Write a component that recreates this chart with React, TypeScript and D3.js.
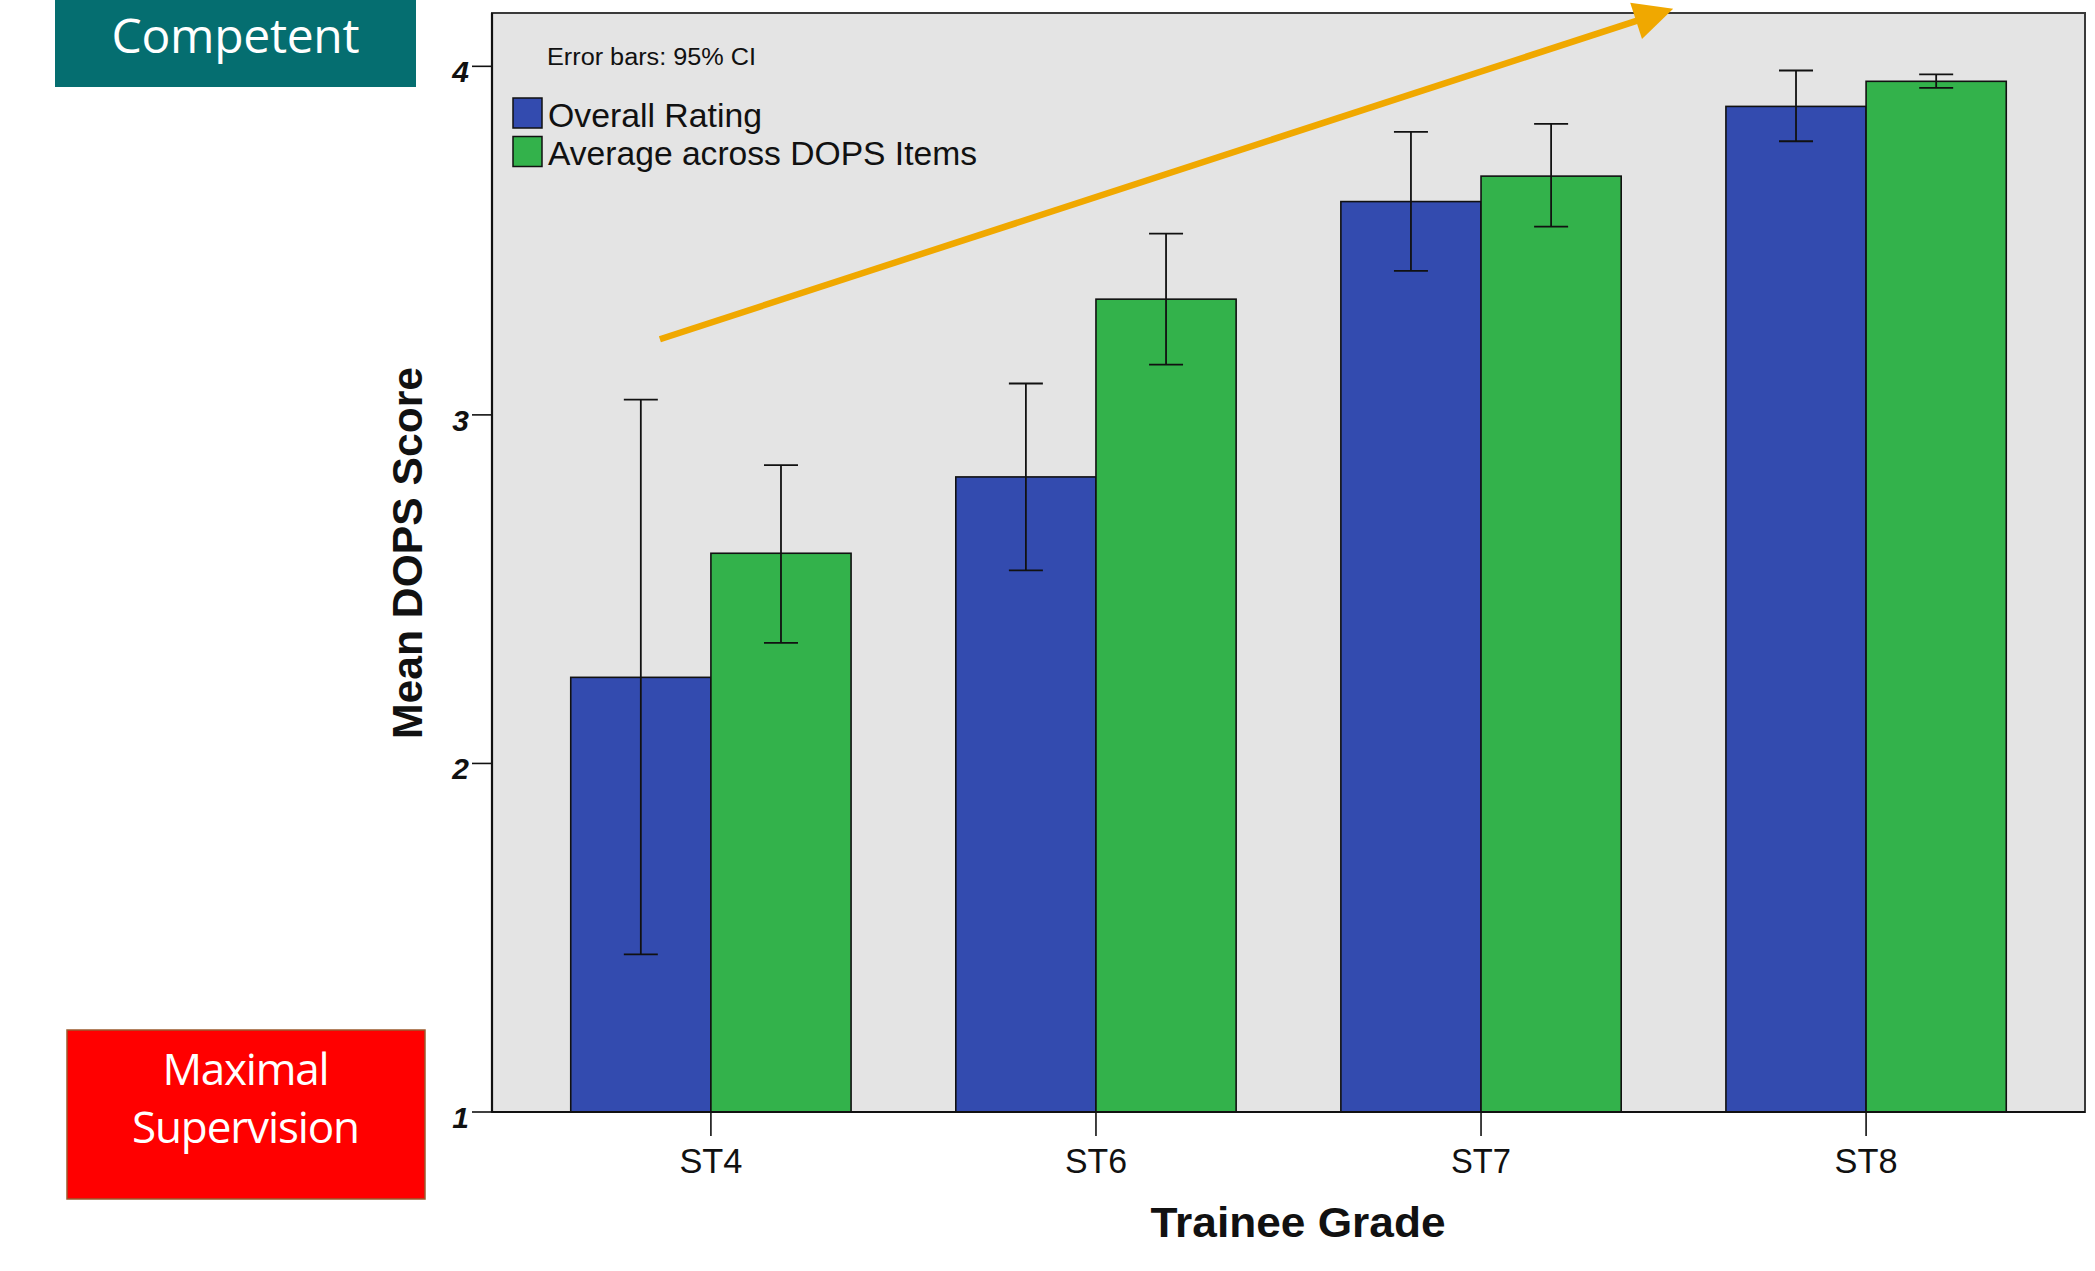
import React from "react";
import * as d3 from "d3";

const categories = ["ST4", "ST6", "ST7", "ST8"];
const seriesNames = ["Overall Rating", "Average across DOPS Items"];
const seriesColors = ["#334BAF", "#33B24B"];
const overallMean = [2.247, 2.822, 3.612, 3.885];
const overallLow = [1.452, 2.554, 3.413, 3.785];
const overallHigh = [3.044, 3.09, 3.812, 3.988];
const averageMean = [2.603, 3.332, 3.685, 3.957];
const averageLow = [2.346, 3.144, 3.54, 3.938];
const averageHigh = [2.856, 3.52, 3.835, 3.977];
const yTicks = [1, 2, 3, 4];
const xTickLabelWidths = [63, 62, 60, 63];
const legendTextWidths = [214, 429];
// arrow annotation in data units: x = category index, y = score
const arrowStart = { i: -0.1325, v: 3.217 };
const arrowEnd = { i: 2.499, v: 4.165 };

const W = 2095;
const H = 1271;
const plot = { left: 492, right: 2085, top: 13, bottom: 1112 };

const chartFont = "'Liberation Sans', Arial, sans-serif";
const boxFont = "'Open Sans', 'Noto Sans', sans-serif";

export default function App() {
  const y = d3.scaleLinear().domain([1, 4.153]).range([plot.bottom, plot.top]);
  const x = d3
    .scaleBand<string>()
    .domain(categories)
    .range([plot.left, plot.right])
    .paddingInner(0.272)
    .paddingOuter(0.2045);
  const xs = d3.scaleBand<number>().domain([0, 1]).range([0, x.bandwidth()]).padding(0);
  const center = (c: string) => (x(c) as number) + x.bandwidth() / 2;
  const idx = d3
    .scaleLinear()
    .domain([0, categories.length - 1])
    .range([center(categories[0]), center(categories[categories.length - 1])]);

  const series = [
    { mean: overallMean, low: overallLow, high: overallHigh },
    { mean: averageMean, low: averageLow, high: averageHigh },
  ];

  // arrow geometry
  const ax0 = idx(arrowStart.i), ay0 = y(arrowStart.v);
  const ax1 = idx(arrowEnd.i), ay1 = y(arrowEnd.v);
  const dx = ax1 - ax0, dy = ay1 - ay0;
  const len = Math.hypot(dx, dy);
  const ux = dx / len, uy = dy / len;
  const headLen = 39, headHalf = 19;
  const bx = ax1 - ux * headLen, by = ay1 - uy * headLen;
  const head = [
    [ax1, ay1],
    [bx - uy * headHalf, by + ux * headHalf],
    [bx + uy * headHalf, by - ux * headHalf],
  ];

  const capW = 34;

  return (
    <svg
      width={W}
      height={H}
      style={{ position: "absolute", left: 0, top: 0, background: "#fff" }}
    >
      {/* plot background & frame */}
      <rect x={plot.left} y={plot.top} width={plot.right - plot.left} height={plot.bottom - plot.top} fill="#E4E4E4" stroke="#3a3a3a" strokeWidth={2} />

      {/* bars */}
      {categories.map((c, ci) =>
        series.map((s, si) => {
          const bx0 = (x(c) as number) + (xs(si) as number);
          return (
            <rect
              key={c + si}
              x={bx0}
              y={y(s.mean[ci])}
              width={xs.bandwidth()}
              height={y(1) - y(s.mean[ci])}
              fill={seriesColors[si]}
              stroke="#111"
              strokeWidth={1.6}
            />
          );
        })
      )}

      {/* error bars */}
      {categories.map((c, ci) =>
        series.map((s, si) => {
          const cx = (x(c) as number) + (xs(si) as number) + xs.bandwidth() / 2;
          return (
            <g key={"e" + c + si} stroke="#111" strokeWidth={1.8}>
              <line x1={cx} x2={cx} y1={y(s.low[ci])} y2={y(s.high[ci])} />
              <line x1={cx - capW / 2} x2={cx + capW / 2} y1={y(s.low[ci])} y2={y(s.low[ci])} />
              <line x1={cx - capW / 2} x2={cx + capW / 2} y1={y(s.high[ci])} y2={y(s.high[ci])} />
            </g>
          );
        })
      )}

      {/* axes lines */}
      <line x1={plot.left} x2={plot.right} y1={plot.bottom} y2={plot.bottom} stroke="#111" strokeWidth={2.2} />
      <line x1={plot.left} x2={plot.left} y1={plot.top} y2={plot.bottom} stroke="#111" strokeWidth={2.2} />

      {/* y ticks */}
      {yTicks.map((t) => (
        <g key={"y" + t}>
          <line x1={plot.left - 20} x2={plot.left} y1={y(t)} y2={y(t)} stroke="#111" strokeWidth={1.6} />
          <text
            x={469}
            y={y(t) + 16}
            textAnchor="end"
            fontFamily={chartFont}
            fontStyle="italic"
            fontWeight="bold"
            fontSize={30}
            fill="#111"
          >
            {t}
          </text>
        </g>
      ))}

      {/* x ticks */}
      {categories.map((c, i) => (
        <g key={"x" + c}>
          <line x1={center(c)} x2={center(c)} y1={plot.bottom} y2={plot.bottom + 24} stroke="#111" strokeWidth={1.6} />
          <text
            x={center(c)}
            y={1173}
            textAnchor="middle"
            fontFamily={chartFont}
            fontSize={35}
            fill="#111"
            textLength={xTickLabelWidths[i]}
            lengthAdjust="spacingAndGlyphs"
          >
            {c}
          </text>
        </g>
      ))}

      {/* axis titles */}
      <text x={1298} y={1237} textAnchor="middle" fontFamily={chartFont} fontWeight="bold" fontSize={42} fill="#111" textLength={295} lengthAdjust="spacingAndGlyphs">
        Trainee Grade
      </text>
      <text
        transform="translate(422,553) rotate(-90)"
        textAnchor="middle"
        fontFamily={chartFont}
        fontWeight="bold"
        fontSize={42}
        fill="#111"
        textLength={372}
        lengthAdjust="spacingAndGlyphs"
      >
        Mean DOPS Score
      </text>

      {/* legend */}
      <text x={547} y={65} fontFamily={chartFont} fontSize={23} fill="#111" textLength={209} lengthAdjust="spacingAndGlyphs">
        Error bars: 95% CI
      </text>
      {seriesNames.map((n, i) => (
        <g key={n}>
          <rect x={513} y={98 + i * 38.5} width={29} height={30} fill={seriesColors[i]} stroke="#111" strokeWidth={1.5} />
          <text
            x={548}
            y={127 + i * 38}
            fontFamily={chartFont}
            fontSize={33}
            fill="#111"
            textLength={legendTextWidths[i]}
            lengthAdjust="spacingAndGlyphs"
          >
            {n}
          </text>
        </g>
      ))}

      {/* arrow */}
      <line x1={ax0} y1={ay0} x2={bx + ux * 2} y2={by + uy * 2} stroke="#F0A800" strokeWidth={6.5} />
      <polygon points={head.map((p) => p.join(",")).join(" ")} fill="#F0A800" />

      {/* Competent box */}
      <rect x={55} y={0} width={361} height={87} fill="#056E70" />
      <text x={235.6} y={53} textAnchor="middle" fontFamily={boxFont} fontSize={48} fill="#fff" textLength={248}>
        Competent
      </text>

      {/* Maximal Supervision box */}
      <rect x={67} y={1030} width={358} height={169} fill="#FF0000" stroke="#9A5B2E" strokeWidth={1.5} />
      <text x={246} y={1085} textAnchor="middle" fontFamily={boxFont} fontSize={44} fill="#fff" textLength={167}>
        Maximal
      </text>
      <text x={246} y={1143} textAnchor="middle" fontFamily={boxFont} fontSize={44} fill="#fff" textLength={228}>
        Supervision
      </text>
    </svg>
  );
}
